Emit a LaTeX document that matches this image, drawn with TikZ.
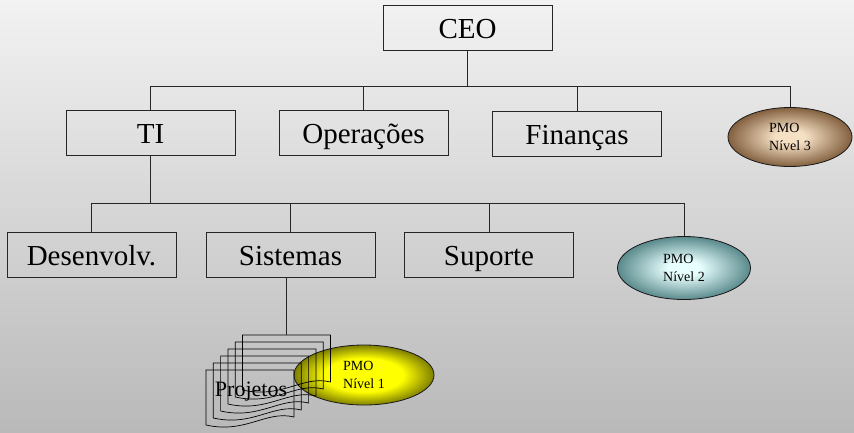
\documentclass[tikz,border=0pt]{standalone}
\usepackage{fontspec}
\setmainfont{Liberation Serif}
\usetikzlibrary{shapes.geometric}

\definecolor{bgtop}{HTML}{F2F2F2}
\definecolor{bgbot}{HTML}{B9B9B9}
\definecolor{brownin}{HTML}{F6E0C4}
\definecolor{brownout}{HTML}{82603F}
\definecolor{tealin}{HTML}{E8FFFF}
\definecolor{tealout}{HTML}{5A8A8C}
\definecolor{yellowin}{HTML}{FFFF00}
\definecolor{yellowout}{HTML}{7E7E00}

\pgfdeclareradialshading{glowbrown}{\pgfpoint{0bp}{0bp}}{color(0bp)=(brownin); color(6bp)=(brownin); color(25bp)=(brownout); color(50bp)=(brownout)}
\pgfdeclareradialshading{glowteal}{\pgfpoint{0bp}{0bp}}{color(0bp)=(tealin); color(6bp)=(tealin); color(25bp)=(tealout); color(50bp)=(tealout)}
\pgfdeclareradialshading{glowyellow}{\pgfpoint{0bp}{0bp}}{color(0bp)=(yellowin); color(14bp)=(yellowin); color(25bp)=(yellowout); color(50bp)=(yellowout)}

\begin{document}
\begin{tikzpicture}[x=1pt, y=-1pt, every node/.style={inner sep=0pt},
unit/.style={draw=black!85, line width=0.8pt, minimum width=169pt, minimum height=45pt, text height=24pt, text depth=3pt, font=\fontsize{29}{31}\selectfont},
pmo/.style={ellipse, draw=black!90, line width=0.8pt, align=left, font=\fontsize{14}{18}\selectfont},
link/.style={draw=black!85, line width=0.8pt},
page/.style={draw=black, line width=0.7pt}]

\shade[top color=bgtop, bottom color=bgbot] (0,0) rectangle (854,432);
\useasboundingbox (0,0) rectangle (854,432);

% top level
\node[unit] (ceo) at (467.5,27.5) {CEO};
\node[unit] (ti) at (150.5,132.5) {TI};
\node[unit] (ops) at (363.5,132.5) {Operações};
\node[unit] (fin) at (577,133.5) {Finanças};
\node[pmo, minimum width=124pt, minimum height=59pt, shading=glowbrown] (pmo3) at (790,137) {PMO\\Nível 3};

% TI
\node[unit] (dev) at (91.5,254.5) {Desenvolv.};
\node[unit] (sis) at (290.5,254.5) {Sistemas};
\node[unit] (sup) at (489,254.5) {Suporte};
\node[pmo, minimum width=133pt, minimum height=63pt, shading=glowteal] (pmo2) at (684,268) {PMO\\Nível 2};

% projetos
\node[pmo, minimum width=140pt, minimum height=60pt, shading=glowyellow] (pmo1) at (364,375) {PMO\\Nível 1};
\foreach \i in {5,4,...,0}
  \draw[page, shift={({206+7.3*\i},{370-7*\i})}] (0,0) -- (88,0) -- (88,47) .. controls (60,40) and (40,64) .. (0,55) -- cycle;
\coordinate (stacktop) at ({206+7.3*5+44},335);
\node[font=\fontsize{22}{24}\selectfont] (proj) at (251,392) {Projetos};

\path (ceo.south) ++(0,36) coordinate (bus1);
\draw[link] (ceo.south) -- (bus1);
\foreach \n in {ti,ops,fin,pmo3}
  \draw[link] (bus1) -| (\n.north);

\path (ti.south) ++(0,48) coordinate (bus2);
\draw[link] (ti.south) -- (bus2);
\foreach \n in {dev,sis,sup,pmo2}
  \draw[link] (bus2) -| (\n.north);

\draw[link] (stacktop |- sis.south) -- (stacktop);
\end{tikzpicture}
\end{document}
